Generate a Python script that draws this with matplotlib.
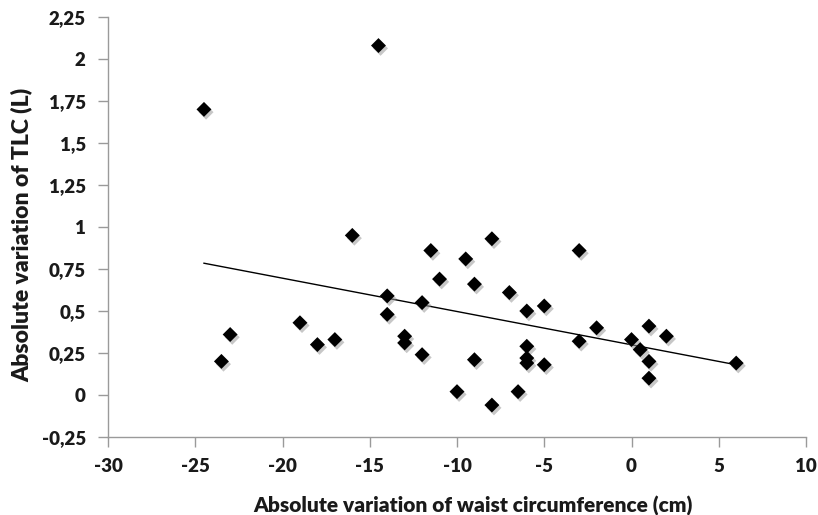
import numpy as np
import matplotlib
matplotlib.use("Agg")
import matplotlib.pyplot as plt
import matplotlib.patheffects as pe
from matplotlib.ticker import FuncFormatter, MultipleLocator

waist = [-24.5, -14.5, -16, -23.5, -23, -19, -18, -17, -14, -14, -13, -13, -12, -12,
         -11.5, -9.5, -11, -9, -7, -6, -5, -3, -2, -3, 0, 0.5, 1, 2, 1, 1, 6,
         -9, -6, -6, -6, -5, -10, -6.5, -8, -8]
tlc = [1.70, 2.08, 0.95, 0.20, 0.36, 0.43, 0.30, 0.33, 0.59, 0.48, 0.35, 0.31, 0.55, 0.24,
       0.86, 0.81, 0.69, 0.66, 0.61, 0.50, 0.53, 0.86, 0.40, 0.32, 0.33, 0.27, 0.41, 0.35, 0.20, 0.10, 0.19,
       0.21, 0.29, 0.22, 0.19, 0.18, 0.02, 0.02, -0.06, 0.93]

xlabel = "Absolute variation of waist circumference (cm)"
ylabel = "Absolute variation of TLC (L)"

plt.rcParams['font.family'] = ['Lato', 'DejaVu Sans']

fig = plt.figure(figsize=(8.18, 5.15), dpi=100)
ax = fig.add_axes([108/818, 1-437/515, (806-108)/818, (437-17)/515])

x = np.array(waist)
y = np.array(tlc)
ax.scatter(x, y, marker='D', s=58, color='black', zorder=3, linewidths=0,
           path_effects=[pe.SimplePatchShadow(offset=(1.5, -2), shadow_rgbFace='#999999', alpha=0.55),
                         pe.Normal()])

k, b = np.polyfit(x, y, 1)
xs = np.array([x.min(), x.max()])
ax.plot(xs, k * xs + b, color='black', lw=1.0, zorder=2)

ax.set_xlim(-30, 10)
ax.set_ylim(-0.25, 2.25)
ax.xaxis.set_major_locator(MultipleLocator(5))
ax.yaxis.set_major_locator(MultipleLocator(0.25))

def fmt(v, pos):
    s = ('%.2f' % v).rstrip('0').rstrip('.')
    if s == '-0':
        s = '0'
    return s.replace('.', ',')

ax.yaxis.set_major_formatter(FuncFormatter(fmt))
ax.xaxis.set_major_formatter(FuncFormatter(lambda v, p: '%d' % round(v)))

for s in ['top', 'right']:
    ax.spines[s].set_visible(False)
for s in ['left', 'bottom']:
    ax.spines[s].set_color('#9a9a9a')
    ax.spines[s].set_linewidth(1.0)
ax.tick_params(direction='out', length=7, color='#9a9a9a', width=1.0,
               labelsize=13.5, labelcolor='#1a1a1a')
ax.tick_params(axis='x', pad=8)
ax.tick_params(axis='y', pad=9)
for lab in ax.get_xticklabels() + ax.get_yticklabels():
    lab.set_fontweight('heavy')

fig.text(473/818, 1-506/515, xlabel, fontsize=15, fontweight='heavy', color='#1a1a1a',
         ha='center', va='center')
fig.text(22/818, 1-235/515, ylabel, fontsize=16.5, fontweight='heavy', color='#1a1a1a',
         ha='center', va='center', rotation=90)

fig.savefig('out.png', dpi=100, facecolor='white')
